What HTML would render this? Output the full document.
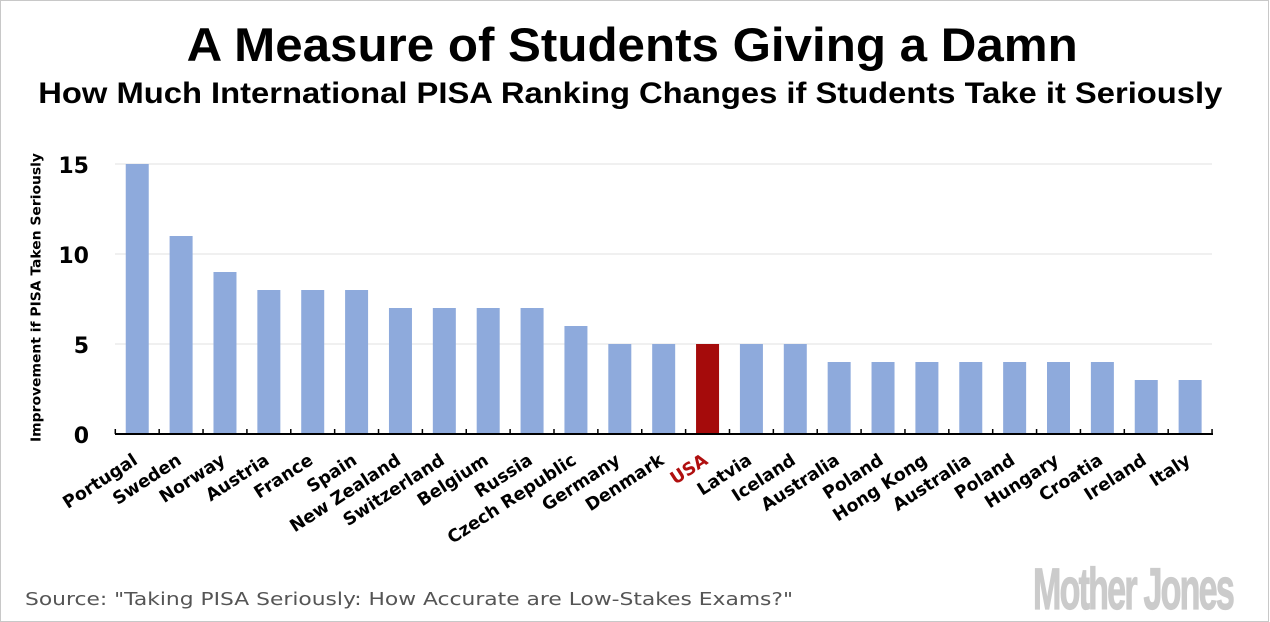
<!DOCTYPE html>
<html>
<head>
<meta charset="utf-8">
<style>
  html,body{margin:0;padding:0;background:#fff;}
  svg{display:block;}
  .lbl{font-family:"DejaVu Sans","Liberation Sans",sans-serif;font-weight:bold;font-size:17.5px;fill:#000;}
  .tick{font-family:"DejaVu Sans","Liberation Sans",sans-serif;font-weight:bold;font-size:22px;fill:#000;}
</style>
</head>
<body>
<svg width="1270" height="622" viewBox="0 0 1270 622" xmlns="http://www.w3.org/2000/svg">
  <rect x="0" y="0" width="1270" height="622" fill="#fff"/>
  <rect x="0.5" y="0.5" width="1268" height="621" fill="none" stroke="#c8c8c8" stroke-width="1"/>

  <!-- Titles -->
  <text x="186.7" y="61" font-family="Liberation Sans, sans-serif" font-weight="bold" font-size="47" textLength="891" lengthAdjust="spacingAndGlyphs" fill="#000">A Measure of Students Giving a Damn</text>
  <text x="38.3" y="103" font-family="Liberation Sans, sans-serif" font-weight="bold" font-size="30" textLength="1184" lengthAdjust="spacingAndGlyphs" fill="#000">How Much International PISA Ranking Changes if Students Take it Seriously</text>

  <!-- Y axis label -->
  <text transform="translate(40.5,297.5) rotate(-90)" text-anchor="middle" font-family="DejaVu Sans, Liberation Sans, sans-serif" font-weight="bold" font-size="13.5" textLength="289" lengthAdjust="spacingAndGlyphs" fill="#000">Improvement if PISA Taken Seriously</text>

  <!-- Gridlines -->
  <g stroke="#e2e2e2" stroke-width="1">
    <line x1="115" y1="164" x2="1212" y2="164"/>
    <line x1="115" y1="254" x2="1212" y2="254"/>
    <line x1="115" y1="344" x2="1212" y2="344"/>
  </g>

  <!-- Y tick labels -->
  <g class="tick" text-anchor="end">
    <text x="89" y="173">15</text>
    <text x="89" y="263">10</text>
    <text x="89" y="353">5</text>
    <text x="89" y="443">0</text>
  </g>

  <!-- Bars -->
  <g fill="#8eaadc">
    <rect x="125.74" y="164" width="23" height="270"/>
    <rect x="169.6" y="236" width="23" height="198"/>
    <rect x="213.48" y="272" width="23" height="162"/>
    <rect x="257.35" y="290" width="23" height="144"/>
    <rect x="301.22" y="290" width="23" height="144"/>
    <rect x="345.09" y="290" width="23" height="144"/>
    <rect x="388.96" y="308" width="23" height="126"/>
    <rect x="432.83" y="308" width="23" height="126"/>
    <rect x="476.7" y="308" width="23" height="126"/>
    <rect x="520.57" y="308" width="23" height="126"/>
    <rect x="564.44" y="326" width="23" height="108"/>
    <rect x="608.3" y="344" width="23" height="90"/>
    <rect x="652.18" y="344" width="23" height="90"/>
    <rect x="739.92" y="344" width="23" height="90"/>
    <rect x="783.79" y="344" width="23" height="90"/>
    <rect x="827.66" y="362" width="23" height="72"/>
    <rect x="871.53" y="362" width="23" height="72"/>
    <rect x="915.4" y="362" width="23" height="72"/>
    <rect x="959.27" y="362" width="23" height="72"/>
    <rect x="1003.14" y="362" width="23" height="72"/>
    <rect x="1047" y="362" width="23" height="72"/>
    <rect x="1090.88" y="362" width="23" height="72"/>
    <rect x="1134.75" y="380" width="23" height="54"/>
    <rect x="1178.62" y="380" width="23" height="54"/>
  </g>
  <rect x="696.05" y="344" width="23" height="90" fill="#a50b0b"/>

  <!-- Axis -->
  <line x1="115" y1="434" x2="1213" y2="434" stroke="#000" stroke-width="2"/>
  <g stroke="#000" stroke-width="1.5">
    <line x1="115.3" y1="429" x2="115.3" y2="434"/>
    <line x1="159.17" y1="429" x2="159.17" y2="434"/>
    <line x1="203.04" y1="429" x2="203.04" y2="434"/>
    <line x1="246.91" y1="429" x2="246.91" y2="434"/>
    <line x1="290.78" y1="429" x2="290.78" y2="434"/>
    <line x1="334.65" y1="429" x2="334.65" y2="434"/>
    <line x1="378.52" y1="429" x2="378.52" y2="434"/>
    <line x1="422.39" y1="429" x2="422.39" y2="434"/>
    <line x1="466.26" y1="429" x2="466.26" y2="434"/>
    <line x1="510.13" y1="429" x2="510.13" y2="434"/>
    <line x1="554" y1="429" x2="554" y2="434"/>
    <line x1="597.87" y1="429" x2="597.87" y2="434"/>
    <line x1="641.74" y1="429" x2="641.74" y2="434"/>
    <line x1="685.61" y1="429" x2="685.61" y2="434"/>
    <line x1="729.48" y1="429" x2="729.48" y2="434"/>
    <line x1="773.35" y1="429" x2="773.35" y2="434"/>
    <line x1="817.22" y1="429" x2="817.22" y2="434"/>
    <line x1="861.09" y1="429" x2="861.09" y2="434"/>
    <line x1="904.96" y1="429" x2="904.96" y2="434"/>
    <line x1="948.83" y1="429" x2="948.83" y2="434"/>
    <line x1="992.7" y1="429" x2="992.7" y2="434"/>
    <line x1="1036.57" y1="429" x2="1036.57" y2="434"/>
    <line x1="1080.44" y1="429" x2="1080.44" y2="434"/>
    <line x1="1124.31" y1="429" x2="1124.31" y2="434"/>
    <line x1="1168.18" y1="429" x2="1168.18" y2="434"/>
    <line x1="1212.05" y1="429" x2="1212.05" y2="434"/>
  </g>

  <!-- X labels -->
  <g class="lbl" text-anchor="end">
    <text transform="translate(138.7,463) rotate(-33)">Portugal</text>
    <text transform="translate(182.6,463) rotate(-33)">Sweden</text>
    <text transform="translate(226.5,463) rotate(-33)">Norway</text>
    <text transform="translate(270.4,463) rotate(-33)">Austria</text>
    <text transform="translate(314.2,463) rotate(-33)">France</text>
    <text transform="translate(358.1,463) rotate(-33)">Spain</text>
    <text transform="translate(402,463) rotate(-33)">New Zealand</text>
    <text transform="translate(445.8,463) rotate(-33)">Switzerland</text>
    <text transform="translate(489.7,463) rotate(-33)">Belgium</text>
    <text transform="translate(533.6,463) rotate(-33)">Russia</text>
    <text transform="translate(577.4,463) rotate(-33)">Czech Republic</text>
    <text transform="translate(621.3,463) rotate(-33)">Germany</text>
    <text transform="translate(665.2,463) rotate(-33)">Denmark</text>
    <text transform="translate(709,463) rotate(-33)" style="fill:#b00f0f">USA</text>
    <text transform="translate(752.9,463) rotate(-33)">Latvia</text>
    <text transform="translate(796.8,463) rotate(-33)">Iceland</text>
    <text transform="translate(840.7,463) rotate(-33)">Australia</text>
    <text transform="translate(884.5,463) rotate(-33)">Poland</text>
    <text transform="translate(928.4,463) rotate(-33)">Hong Kong</text>
    <text transform="translate(972.3,463) rotate(-33)">Australia</text>
    <text transform="translate(1016.1,463) rotate(-33)">Poland</text>
    <text transform="translate(1060,463) rotate(-33)">Hungary</text>
    <text transform="translate(1103.9,463) rotate(-33)">Croatia</text>
    <text transform="translate(1147.7,463) rotate(-33)">Ireland</text>
    <text transform="translate(1191.6,463) rotate(-33)">Italy</text>
  </g>

  <!-- Footer -->
  <text x="25" y="605" font-family="DejaVu Sans, Liberation Sans, sans-serif" font-size="18" textLength="768" lengthAdjust="spacingAndGlyphs" fill="#555">Source: "Taking PISA Seriously: How Accurate are Low-Stakes Exams?"</text>

  <!-- Logo -->
  <text x="1033" y="609" font-family="Liberation Sans, sans-serif" font-weight="bold" font-size="58" textLength="200" lengthAdjust="spacingAndGlyphs" fill="#cbcbcb" stroke="#cbcbcb" stroke-width="1.2" letter-spacing="-3">Mother Jones</text>
</svg>
</body>
</html>
